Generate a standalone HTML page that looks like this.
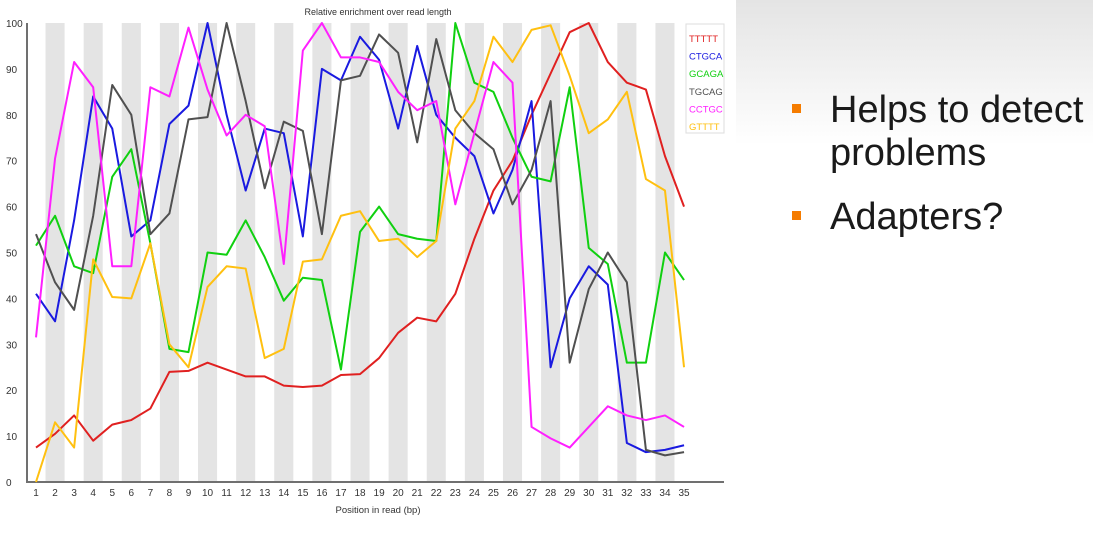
<!DOCTYPE html>
<html><head><meta charset="utf-8"><style>
body{margin:0;width:1093px;height:539px;background:#fff;overflow:hidden;position:relative;font-family:"Liberation Sans",sans-serif}
#side{position:absolute;left:736px;top:0;width:357px;height:145px;background:linear-gradient(#e4e4e4,#fff)}
.t{position:absolute;font-size:38px;color:#1a1a1a;left:830px;line-height:1}
.b{position:absolute;left:792px;width:9px;height:9px;background:#f57c00}
</style></head><body>
<div id="side"></div>
<div class="b" style="top:104px"></div>
<div class="t" style="top:91px">Helps to detect</div>
<div class="t" style="top:134px">problems</div>
<div class="b" style="top:211px"></div>
<div class="t" style="top:198px">Adapters?</div>
<svg id="chart" width="736" height="539" style="position:absolute;left:0;top:0" font-family="Liberation Sans, sans-serif"></svg>
<script>
const positions=[1,2,3,4,5,6,7,8,9,10,11,12,13,14,15,16,17,18,19,20,21,22,23,24,25,26,27,28,29,30,31,32,33,34,35];
const yTicks=[0,10,20,30,40,50,60,70,80,90,100];
const seriesNames=["TTTTT","CTGCA","GCAGA","TGCAG","CCTGC","GTTTT"];
const seriesColors=["#e02020","#1a1ae0","#10d010","#505050","#ff20ff","#ffc010"];
const tttttVals=[7.5,10.5,14.5,9,12.5,13.5,16,24,24.2,26,24.5,23,23,21,20.7,21,23.3,23.5,27,32.5,35.8,35,41,53,63.5,70,80,89,98,100,91.5,87,85.5,71,60];
const ctgcaVals=[41,35,57,84,77,53.5,57,78,82,100,80,63.5,77,76,53.5,90,87.5,97,92,77,95,80,75,71,58.5,68,83,25,40,47,43,8.5,6.5,7,8];
const gcagaVals=[51.5,58,47,45.5,66.5,72.5,52,29,28.3,50,49.5,57,49,39.5,44.5,44,24.5,54.5,60,54,53,52.5,100,87,85,75,66.5,65.5,86,51,47.5,26,26,50,44];
const tgcagVals=[54,43.5,37.5,58,86.5,80,54,58.5,79,79.5,100,83,64,78.5,76.5,54,87.5,88.5,97.5,93.5,74,96.5,81,76,72.5,60.5,68,83,26,42,50,43.5,7,5.8,6.5];
const cctgcVals=[31.5,70.5,91.5,86,47,47,86,84,99,85.5,75.5,80,77.5,47.5,94,100,92.5,92.5,91.5,85,81,83,60.5,76,91.5,87,12,9.5,7.5,12,16.5,14.5,13.5,14.5,12];
const gttttVals=[0,13,7.5,48.5,40.3,40,52,30,25,42.5,47,46.5,27,29,48,48.5,58,59,52.5,53,49,52.5,77,83,97,91.5,98.5,99.5,88.5,76,79,85,66,63.5,25];
const allSeries=[tttttVals,ctgcaVals,gcagaVals,tgcagVals,cctgcVals,gttttVals];
const NS="http://www.w3.org/2000/svg",svg=document.getElementById('chart');
const X0=36,DX=19.06,Y0=482,Y1=23;
const xs=p=>X0+(p-1)*DX, ys=v=>Y0-(v/100)*(Y0-Y1);
function mk(t,a,p){const e=document.createElementNS(NS,t);for(const k in a)e.setAttribute(k,a[k]);(p||svg).appendChild(e);return e;}
positions.forEach(p=>{if(p%2===0){const r=mk('rect',{x:xs(p)-DX/2,y:Y1,width:DX,height:Y0-Y1,fill:'#e4e4e4'});

}});
const ax=mk('path',{d:`M27,${Y1} V${Y0} H724`,stroke:'#707070','stroke-width':2,fill:'none'});


yTicks.forEach(v=>{const t=mk('text',{x:6,y:ys(v)+4,'font-size':10,fill:'#333'});t.textContent=v;

});
positions.forEach(p=>{const t=mk('text',{x:xs(p),y:496,'font-size':10,fill:'#333','text-anchor':'middle'});t.textContent=p;

});
const ti=mk('text',{x:378,y:15,'font-size':9,fill:'#333','text-anchor':'middle'});ti.textContent='Relative enrichment over read length';


const xt=mk('text',{x:378,y:513,'font-size':9.5,fill:'#333','text-anchor':'middle'});xt.textContent='Position in read (bp)';


allSeries.forEach((vals,i)=>{const l=mk('polyline',{points:vals.map((v,j)=>xs(positions[j])+','+ys(v)).join(' '),fill:'none',stroke:seriesColors[i],'stroke-width':2,'stroke-linejoin':'round'});

});
const lg=mk('rect',{x:686,y:24,width:38,height:109,fill:'#fff',stroke:'#ddd'});


seriesNames.forEach((n,i)=>{const t=mk('text',{x:689,y:42+i*17.6,'font-size':9.5,fill:seriesColors[i]});t.textContent=n;

});
</script>
</body></html>
